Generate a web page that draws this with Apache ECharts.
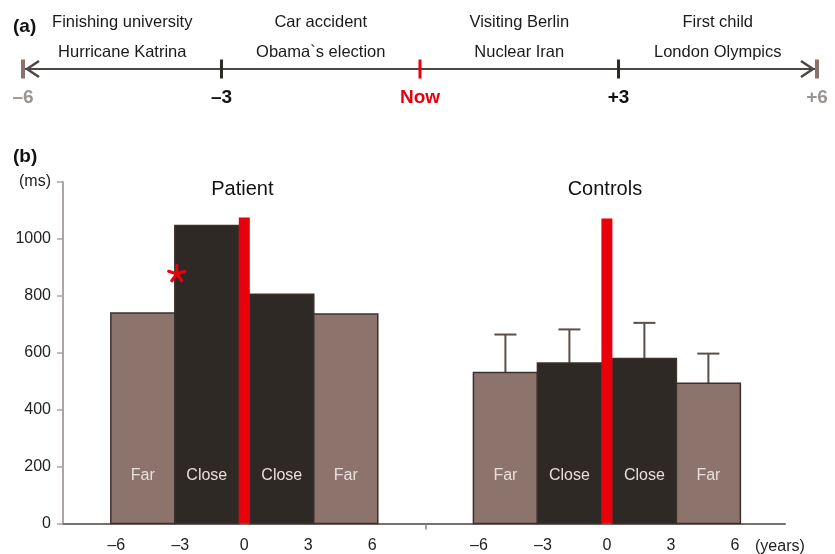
<!DOCTYPE html>
<html>
<head>
<meta charset="utf-8">
<script src="https://cdn.jsdelivr.net/npm/echarts@6/dist/echarts.min.js"></script>
<style>
  html, body { margin: 0; padding: 0; background: #ffffff; }
  #chart { width: 835px; height: 554px; }
</style>
</head>
<body>
<div id="chart"></div>
<script>
// ---- (a) timeline of autobiographical / public events ----
const timelineYears = [-6, -3, 0, 3, 6];
const timelineLabels = ['–6', '–3', 'Now', '+3', '+6'];
const eventMidpoints = [-4.5, -1.5, 1.5, 4.5];
const eventsFirstRow = ['Finishing university', 'Car accident', 'Visiting Berlin', 'First child'];
const eventsSecondRow = ['Hurricane Katrina', 'Obama`s election', 'Nuclear Iran', 'London Olympics'];

// ---- (b) reaction times (ms) per temporal distance ----
const periodNames = ['Far', 'Close', 'Close', 'Far'];
const periodStart = [-6, -3, 0, 3];
const periodEnd = [-3, 0, 3, 6];
const patientRT = [740, 1047, 806, 736];
const controlsRT = [531, 564, 580, 493];
const controlsError = [133, 118, 125, 104];
const patientSignificant = [false, true, false, false];
const panelNames = ['Patient', 'Controls'];
const nowMarkerHeight = [1075, 1072];
const yearTicks = [-6, -3, 0, 3, 6];
const rtTicks = [0, 200, 400, 600, 800, 1000];

// both panels share one year axis; the second panel is shifted along it
const panelOffset = [0, 17];
const gapHalf = 5.5;            // half-width of the red "now" marker, px
const FONT = '"Liberation Sans", Arial, Helvetica, sans-serif';

const colorFar = '#8c746c';
const colorClose = '#2e2924';
const colorEdge = '#3b302c';
const colorNow = '#e8000b';

function barData(values, panel) {
  return values.map((v, i) => [periodStart[i] + panelOffset[panel], periodEnd[i] + panelOffset[panel], v, i, panelOffset[panel]]);
}

function renderBar(params, api) {
  const s = api.value(0), e = api.value(1), v = api.value(2), i = api.value(3), c = api.value(4);
  const shift = e <= c ? -gapHalf : gapHalf;
  const p0 = api.coord([s, 0]);
  const p1 = api.coord([e, v]);
  const textPos = api.coord([(s + e) / 2, 170]);
  const x0 = p0[0] + shift, x1 = p1[0] + shift;
  return {
    type: 'group',
    children: [
      {
        type: 'rect',
        shape: { x: x0, y: p1[1], width: x1 - x0, height: p0[1] - p1[1] },
        style: { fill: periodNames[i] === 'Far' ? colorFar : colorClose, stroke: colorEdge, lineWidth: 1.5 }
      },
      {
        type: 'text',
        x: textPos[0] + shift, y: textPos[1],
        style: { text: periodNames[i], fill: '#e7dfdb', font: '16px ' + FONT, align: 'center', verticalAlign: 'middle' }
      }
    ]
  };
}

const yearLabelValues = [];
panelOffset.forEach(o => yearTicks.forEach(t => yearLabelValues.push(t + o)));

const chart = echarts.init(document.getElementById('chart'), null, { renderer: 'canvas' });

const option = {
  backgroundColor: '#ffffff',
  animation: false,
  textStyle: { fontFamily: FONT },
  grid: [
    { left: 63, right: 50, top: 182, bottom: 30.5 },
    { left: 23, right: 18, top: 20, bottom: 485 }
  ],
  xAxis: [
    {
      type: 'value', gridIndex: 0, min: -8.5, max: 25.35,
      axisLine: { show: true, onZero: false, lineStyle: { color: '#77706d', width: 2 } },
      axisTick: { show: true, customValues: [(yearTicks[yearTicks.length - 1] + yearTicks[0] + panelOffset[1]) / 2], length: 6, lineStyle: { color: '#8a8280', width: 1.5 } },
      axisLabel: {
        show: true, customValues: yearLabelValues, margin: 14,
        color: '#222', fontSize: 16, fontFamily: FONT,
        formatter: v => {
          const t = v > 8.5 ? v - panelOffset[1] : v;
          const r = Math.round(t);
          return r < 0 ? '–' + Math.abs(r) : String(r);
        }
      },
      splitLine: { show: false }
    },
    { type: 'value', gridIndex: 1, min: -6, max: 6, show: false }
  ],
  yAxis: [
    {
      type: 'value', gridIndex: 0, min: 0, max: 1200, interval: 200,
      axisLine: { show: true, onZero: false, lineStyle: { color: '#aaa4a2', width: 2 } },
      axisTick: { show: true, length: 6, lineStyle: { color: '#aaa4a2', width: 1.5 } },
      axisLabel: {
        margin: 12, color: '#222', fontSize: 16, fontFamily: FONT,
        formatter: v => (rtTicks.indexOf(v) >= 0 ? String(v) : '(ms)')
      },
      splitLine: { show: false }
    },
    { type: 'value', gridIndex: 1, min: 0, max: 1, show: false }
  ],
  graphic: [
    { type: 'text', left: 13, top: 17, style: { text: '(a)', font: 'bold 19px ' + FONT, fill: '#111' } },
    { type: 'text', left: 13, top: 147, style: { text: '(b)', font: 'bold 19px ' + FONT, fill: '#111' } },
    { type: 'text', left: 755, top: 539, style: { text: '(years)', font: '16px ' + FONT, fill: '#222' } }
  ],
  series: [
    // timeline axis line with open arrowheads at both ends
    {
      type: 'custom', xAxisIndex: 1, yAxisIndex: 1, silent: true,
      data: [[timelineYears[0], timelineYears[timelineYears.length - 1]]],
      renderItem: (params, api) => {
        const a = api.coord([api.value(0), 0]);
        const b = api.coord([api.value(1), 0]);
        const st = { stroke: '#4e4745', lineWidth: 2, fill: null };
        return {
          type: 'group',
          children: [
            { type: 'line', shape: { x1: a[0], y1: a[1], x2: b[0], y2: b[1] }, style: st },
            { type: 'polyline', shape: { points: [[a[0] + 16, a[1] - 8], [a[0] + 4, a[1]], [a[0] + 16, a[1] + 8]] }, style: { stroke: '#4e4745', lineWidth: 2.5, fill: null } },
            { type: 'polyline', shape: { points: [[b[0] - 16, b[1] - 8], [b[0] - 4, b[1]], [b[0] - 16, b[1] + 8]] }, style: { stroke: '#4e4745', lineWidth: 2.5, fill: null } }
          ]
        };
      }
    },
    // timeline ticks and their labels
    {
      type: 'custom', xAxisIndex: 1, yAxisIndex: 1, silent: true, z: 3,
      data: timelineYears.map((y, i) => [y, i]),
      renderItem: (params, api) => {
        const y = api.value(0), i = api.value(1);
        const p = api.coord([y, 0]);
        const isEnd = Math.abs(y) === 6, isNow = y === 0;
        const tickColor = isNow ? colorNow : (isEnd ? '#8c726a' : '#2d2a28');
        const textColor = isNow ? colorNow : (isEnd ? '#9b9492' : '#111');
        return {
          type: 'group',
          children: [
            { type: 'line', shape: { x1: p[0], y1: p[1] - 9.5, x2: p[0], y2: p[1] + 9.5 }, style: { stroke: tickColor, lineWidth: isEnd ? 4 : 3 } },
            { type: 'text', x: p[0], y: p[1] + 29, style: { text: timelineLabels[i], font: 'bold 19px ' + FONT, fill: textColor, align: 'center', verticalAlign: 'middle' } }
          ]
        };
      }
    },
    // event names between the ticks
    {
      type: 'custom', xAxisIndex: 1, yAxisIndex: 1, silent: true,
      data: eventMidpoints.map((m, i) => [m, i]),
      renderItem: (params, api) => {
        const i = api.value(1);
        const p = api.coord([api.value(0), 0]);
        const f = '16.5px ' + FONT;
        return {
          type: 'group',
          children: [
            { type: 'text', x: p[0], y: p[1] - 47, style: { text: eventsFirstRow[i], font: f, fill: '#1a1a1a', align: 'center', verticalAlign: 'middle' } },
            { type: 'text', x: p[0], y: p[1] - 17, style: { text: eventsSecondRow[i], font: f, fill: '#1a1a1a', align: 'center', verticalAlign: 'middle' } }
          ]
        };
      }
    },
    // patient bars
    {
      type: 'custom', xAxisIndex: 0, yAxisIndex: 0, silent: true,
      encode: { x: [0, 1], y: 2 },
      data: barData(patientRT, 0),
      renderItem: renderBar
    },
    // controls bars
    {
      type: 'custom', xAxisIndex: 0, yAxisIndex: 0, silent: true,
      encode: { x: [0, 1], y: 2 },
      data: barData(controlsRT, 1),
      renderItem: renderBar
    },
    // controls error bars (upper half)
    {
      type: 'custom', xAxisIndex: 0, yAxisIndex: 0, silent: true, z: 1,
      data: controlsRT.map((v, i) => [(periodStart[i] + periodEnd[i]) / 2 + panelOffset[1], v, v + controlsError[i], periodEnd[i] <= 0 ? -1 : 1]),
      renderItem: (params, api) => {
        const side = api.value(3);
        const lo = api.coord([api.value(0), api.value(1)]);
        const hi = api.coord([api.value(0), api.value(2)]);
        const x = lo[0] + side * gapHalf;
        const st = { stroke: '#5b4d48', lineWidth: 2 };
        return {
          type: 'group',
          children: [
            { type: 'line', shape: { x1: x, y1: lo[1], x2: x, y2: hi[1] }, style: st },
            { type: 'line', shape: { x1: x - 11, y1: hi[1], x2: x + 11, y2: hi[1] }, style: st }
          ]
        };
      }
    },
    // red "now" markers
    {
      type: 'custom', xAxisIndex: 0, yAxisIndex: 0, silent: true, z: 4,
      data: panelOffset.map((o, i) => [o, nowMarkerHeight[i]]),
      renderItem: (params, api) => {
        const b = api.coord([api.value(0), 0]);
        const t = api.coord([api.value(0), api.value(1)]);
        return { type: 'rect', shape: { x: b[0] - gapHalf, y: t[1], width: gapHalf * 2, height: b[1] - t[1] }, style: { fill: colorNow } };
      }
    },
    // panel titles
    {
      type: 'custom', xAxisIndex: 0, yAxisIndex: 0, silent: true,
      data: panelOffset.map((o, i) => [o, 1200, i]),
      renderItem: (params, api) => {
        const p = api.coord([api.value(0), api.value(1)]);
        return { type: 'text', x: p[0] - 2, y: p[1] + 7, style: { text: panelNames[api.value(2)], font: '20px ' + FONT, fill: '#111', align: 'center', verticalAlign: 'middle' } };
      }
    },
    // significance asterisk on the patient's bars
    {
      type: 'custom', xAxisIndex: 0, yAxisIndex: 0, silent: true, z: 5,
      data: patientRT.map((v, i) => [periodStart[i], v, patientSignificant[i] ? 1 : 0]).filter(d => d[2] === 1),
      renderItem: (params, api) => {
        const p = api.coord([api.value(0), api.value(1) - 170]);
        const cx = p[0] - gapHalf + 2, cy = p[1];
        const r = 8.5;
        const arms = [];
        for (let k = 0; k < 5; k++) {
          const a = -Math.PI / 2 + k * 2 * Math.PI / 5;
          arms.push({ type: 'line', shape: { x1: cx, y1: cy, x2: cx + r * Math.cos(a), y2: cy + r * Math.sin(a) }, style: { stroke: colorNow, lineWidth: 3.2, lineCap: 'round' } });
        }
        return { type: 'group', children: arms };
      }
    }
  ]
};

chart.setOption(option);
</script>
</body>
</html>
